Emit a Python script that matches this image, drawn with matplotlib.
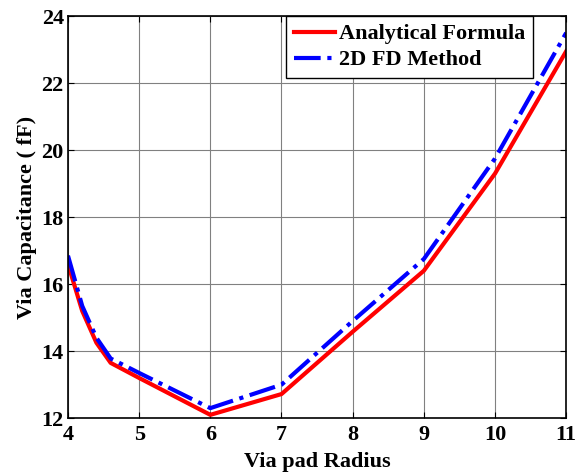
import numpy as np
import matplotlib.pyplot as plt

plt.rcParams['font.family'] = ['Liberation Serif', 'DejaVu Serif']
plt.rcParams['font.weight'] = 'bold'

# 数据
radius = [4, 4.2, 4.4, 4.6, 5, 6, 7, 8, 9, 10, 11]
analytical = [16.6, 15.2, 14.25, 13.65, 13.2, 12.1, 12.72, 14.58, 16.4, 19.3, 22.95]
fd_method = [16.85, 15.35, 14.4, 13.78, 13.35, 12.3, 13.0, 14.9, 16.75, 19.75, 23.5]

fig = plt.figure(figsize=(5.76, 4.72), dpi=100)
ax = fig.add_axes([0.118, 0.114, 0.865, 0.852])

ax.plot(radius, analytical, color='red', lw=3, label='Analytical Formula')
ax.plot(radius, fd_method, color='blue', lw=3, ls='-.', label='2D FD Method')

ax.set_xlim(4, 11)
ax.set_ylim(12, 24)
ax.set_xticks(range(4, 12))
ax.set_yticks(range(12, 25, 2))
ax.grid(True, color='#808080', lw=0.8)
ax.tick_params(direction='in', top=True, right=True, labelsize=16, length=4)
ax.tick_params(axis='y', pad=3)
ax.tick_params(axis='x', pad=5)
for s in ax.spines.values():
    s.set_linewidth(1.2)

ax.set_xlabel('Via pad Radius', fontsize=16, fontweight='bold', labelpad=5)
ax.set_ylabel('Via Capacitance ( fF)', fontsize=16, fontweight='bold', labelpad=3)

leg = ax.legend(loc='upper right', bbox_to_anchor=(0.934, 1.0), fontsize=16,
                fancybox=False, framealpha=1, edgecolor='black',
                borderaxespad=0, handlelength=1.85, handletextpad=0.2,
                borderpad=0.35, labelspacing=0.25)
leg.get_frame().set_linewidth(1.0)

plt.savefig('out.png', dpi=100)
